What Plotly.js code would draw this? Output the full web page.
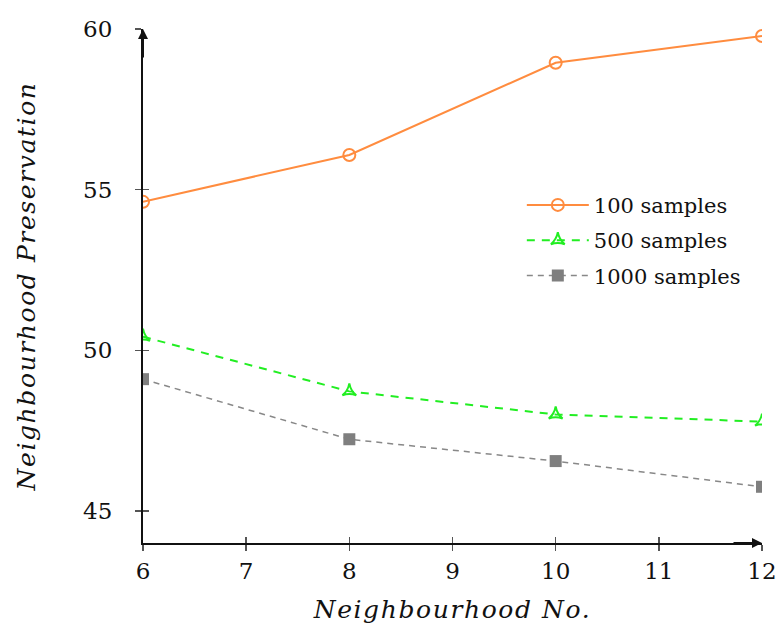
<!DOCTYPE html>
<html>
<head>
<meta charset="utf-8">
<script src="https://cdn.plot.ly/plotly-3.0.1.min.js"></script>
<style>
html,body{margin:0;padding:0;background:#fff;}
#chart{width:779px;height:630px;}
#chart .xtitle, #chart .ytitle{letter-spacing:1.6px;}
</style>
</head>
<body>
<div id="chart"></div>
<script>
const neighbourhood = [6, 8, 10, 12];
const samples100 = [54.62, 56.08, 58.95, 59.78];
const samples500 = [50.42, 48.72, 48.0, 47.78];
const samples1000 = [49.1, 47.23, 46.55, 45.75];
const seriesNames = ['100 samples', '500 samples', '1000 samples'];
const xTicks = [6, 7, 8, 9, 10, 11, 12];
const yTicks = [45, 50, 55, 60];

const serif = 'DejaVu Serif, Liberation Serif, serif';

const traces = [
  {x: neighbourhood, y: samples100, name: seriesNames[0], legendgroup: 'a', mode: 'lines+markers',
   line: {color: '#ff8c3f', width: 2},
   marker: {symbol: 'circle-open', size: 12, color: '#ff8c3f', line: {width: 2, color: '#ff8c3f'}}},
  {x: neighbourhood, y: samples500, name: seriesNames[1], legendgroup: 'b', mode: 'lines+markers',
   line: {color: '#22ee22', width: 2, dash: '8px,7px'},
   marker: {symbol: 'star-triangle-up-open', size: 10, color: '#22ee22', line: {width: 2, color: '#22ee22'}}},
  {x: neighbourhood, y: samples1000, name: seriesNames[2], legendgroup: 'c', mode: 'lines+markers',
   line: {color: '#888888', width: 1.5, dash: '6px,5px'},
   marker: {symbol: 'square', size: 12, color: '#7f7f7f'}}
];

const layout = {
  width: 779, height: 630,
  margin: {l: 143, r: 17, t: 29, b: 87},
  paper_bgcolor: '#fff', plot_bgcolor: '#fff',
  showlegend: true,
  legend: {x: 0.612, y: 0.697, xanchor: 'left', yanchor: 'top',
    font: {family: serif, size: 21, color: '#111'}, bgcolor: 'rgba(0,0,0,0)',
    traceorder: 'grouped', tracegroupgap: 5, itemwidth: 62},
  xaxis: {range: [6, 12], tickvals: xTicks, ticktext: xTicks.map(String),
    showgrid: false, zeroline: false, showline: true, linecolor: '#111', linewidth: 2,
    ticks: 'outside', ticklen: 6, tickcolor: '#555', tickwidth: 1.5,
    tickfont: {family: serif, size: 23, color: '#111'},
    title: {text: '<i>Neighbourhood No.</i>', font: {family: serif, size: 25, color: '#111'}, standoff: 18}},
  yaxis: {range: [44, 60], tickvals: yTicks, ticktext: yTicks.map(String),
    showgrid: false, zeroline: false, showline: true, linecolor: '#111', linewidth: 2,
    ticks: 'outside', ticklen: 6, tickcolor: '#555', tickwidth: 1.5, ticklabelstandoff: 18,
    tickfont: {family: serif, size: 23, color: '#111'},
    title: {text: '<i>Neighbourhood Preservation</i>', font: {family: serif, size: 25, color: '#111'}, standoff: 40}},
  xaxis2: {overlaying: 'x', range: [6, 12], tickvals: xTicks, showticklabels: false,
    showgrid: false, zeroline: false, ticks: 'inside', ticklen: 6, tickcolor: '#555', tickwidth: 1.5, anchor: 'y'},
  yaxis2: {overlaying: 'y', range: [44, 60], tickvals: yTicks, showticklabels: false,
    showgrid: false, zeroline: false, ticks: 'inside', ticklen: 6, tickcolor: '#555', tickwidth: 1.5, anchor: 'x'},
  annotations: [
    {xref: 'paper', yref: 'paper', x: 0, y: 1, ax: 0, ay: 30,
     showarrow: true, arrowhead: 2, arrowsize: 1, arrowwidth: 2, arrowcolor: '#111', text: ''},
    {xref: 'paper', yref: 'paper', x: 1, y: 0, ax: -30, ay: 0,
     showarrow: true, arrowhead: 2, arrowsize: 1, arrowwidth: 2, arrowcolor: '#111', text: ''}
  ]
};

traces.push({x: [6], y: [44], xaxis: 'x2', yaxis: 'y2', mode: 'markers', marker: {opacity: 0}, showlegend: false, hoverinfo: 'skip'});

Plotly.newPlot('chart', traces, layout, {displayModeBar: false, staticPlot: true});
</script>
</body>
</html>
